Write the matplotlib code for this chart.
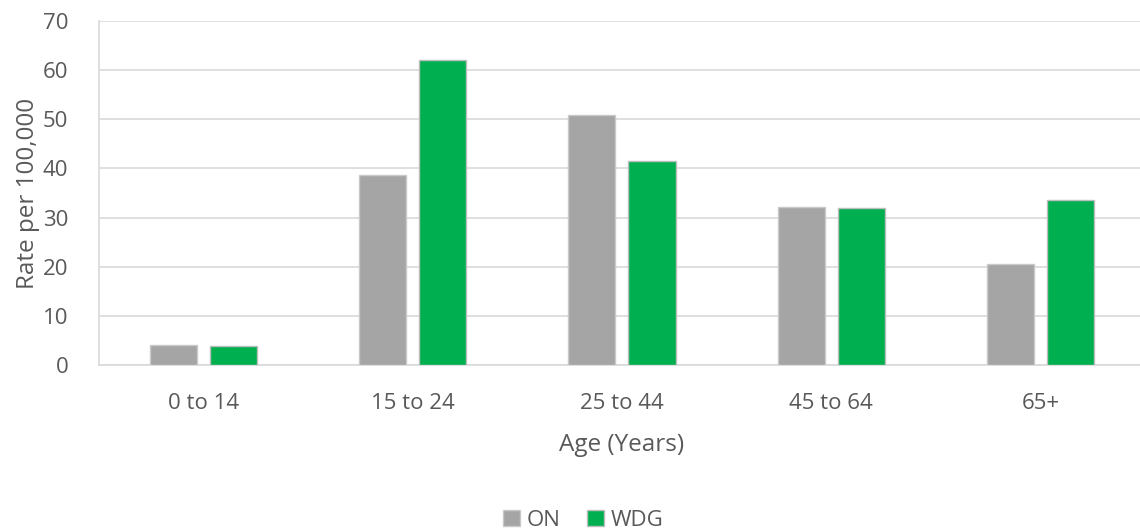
import matplotlib
matplotlib.use("Agg")
import matplotlib.pyplot as plt
import numpy as np

categories = ["0 to 14", "15 to 24", "25 to 44", "45 to 64", "65+"]
on_rates = [4.0, 38.7, 50.9, 32.2, 20.6]
wdg_rates = [3.9, 62.0, 41.5, 32.0, 33.5]
series_names = ["ON", "WDG"]
y_ticks = [0, 10, 20, 30, 40, 50, 60, 70]

plt.rcParams["font.family"] = ["Open Sans", "DejaVu Sans"]
text_color = "#595959"
grid_color = "#D9D9D9"

fig = plt.figure(figsize=(11.4, 5.31), dpi=100)
ax = fig.add_axes([0.0868, 0.3126, 0.9176, 0.6479])

x = np.arange(len(categories))
width = 0.225
offset = 0.1435
ax.bar(x - offset, on_rates, width, color="#A5A5A5", edgecolor="#C9C9C9",
       linewidth=1, label=series_names[0], zorder=3)
ax.bar(x + offset, wdg_rates, width, color="#00B050", edgecolor="#BDBDBD",
       linewidth=1, label=series_names[1], zorder=3)

ax.set_xlim(-0.5, len(categories) - 0.5)
ax.set_ylim(0, 70)
ax.set_yticks(y_ticks)
ax.set_xticks(x)
ax.set_xticklabels(categories)
ax.yaxis.grid(True, color=grid_color, linewidth=1.2, zorder=0)
ax.tick_params(axis="both", length=0, labelsize=16, colors=text_color)
ax.tick_params(axis="x", pad=20)
ax.tick_params(axis="y", pad=22)

for side in ["top", "right"]:
    ax.spines[side].set_visible(False)
ax.spines["left"].set_color(grid_color)
ax.spines["bottom"].set_color(grid_color)
ax.spines["left"].set_linewidth(1.2)
ax.spines["bottom"].set_linewidth(1.2)

ax.set_xlabel("Age (Years)", fontsize=17.5, color=text_color, labelpad=14)
ax.set_ylabel("Rate per 100,000", fontsize=17.5, color=text_color, labelpad=2)

ax.legend(loc="upper center", bbox_to_anchor=(0.463, -0.362), ncol=2,
          frameon=False, fontsize=16, handlelength=0.75, handleheight=0.75,
          handletextpad=0.3, columnspacing=1.2, labelcolor=text_color)

fig.savefig("out.png", dpi=100, facecolor="white")
